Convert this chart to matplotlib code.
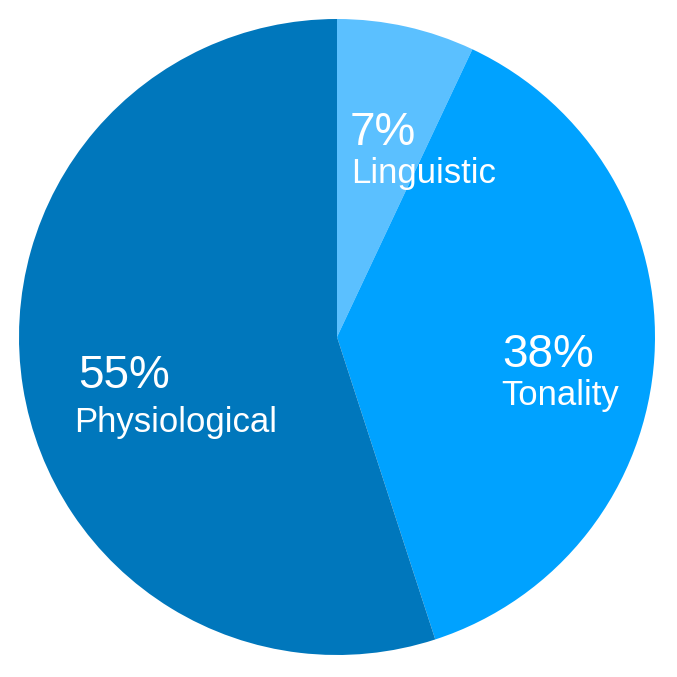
import matplotlib
matplotlib.use("Agg")
import matplotlib.pyplot as plt

# data
categories = ["Linguistic", "Tonality", "Physiological"]
shares = [7, 38, 55]
colors = ["#5BC0FF", "#00A2FF", "#0077BC"]

# label anchors in pixels (left, baseline) for percent line and name line
W = 677
pct_pos = [(350, 145), (502, 367), (78, 388)]
name_pos = [(351, 183), (501, 405), (74, 432)]

plt.rcParams["font.family"] = ["Liberation Sans", "DejaVu Sans"]

fig = plt.figure(figsize=(W / 100, W / 100), dpi=100)
cx, cy, r = 337, 337, 318
ax = fig.add_axes([(cx - r) / W, (W - cy - r) / W, 2 * r / W, 2 * r / W])
ax.pie(shares, colors=colors, startangle=90, counterclock=False,
       radius=1, wedgeprops=dict(linewidth=0))
ax.set_xlim(-1, 1)
ax.set_ylim(-1, 1)
ax.set_aspect("equal")
ax.axis("off")

for cat, val, (px, py), (nx, ny) in zip(categories, shares, pct_pos, name_pos):
    fig.text(px / W, 1 - py / W, f"{val}%", color="white", fontsize=33,
             ha="left", va="baseline")
    fig.text(nx / W, 1 - ny / W, cat, color="white", fontsize=25,
             ha="left", va="baseline")

fig.savefig("out.png", dpi=100, facecolor="white")
